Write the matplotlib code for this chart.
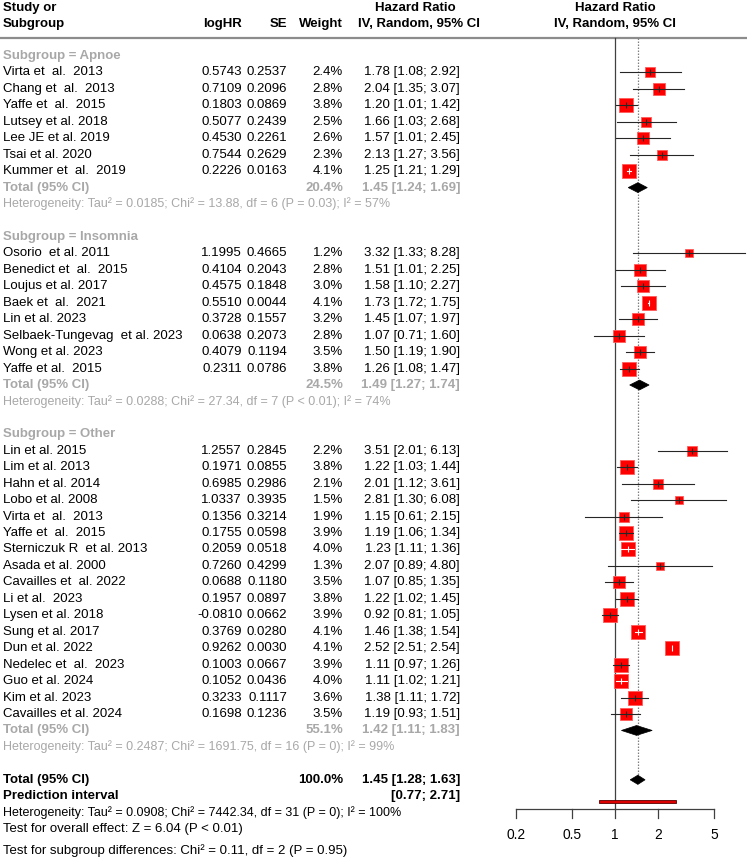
import numpy as np
import matplotlib.pyplot as plt
from matplotlib.patches import Polygon, Rectangle

plt.rcParams['font.family'] = ['Liberation Sans', 'DejaVu Sans']

# ---- data ----
apnoe_studies = ["Virta et  al.  2013", "Chang et  al.  2013", "Yaffe et  al.  2015",
                 "Lutsey et al. 2018", "Lee JE et al. 2019", "Tsai et al. 2020",
                 "Kummer et  al.  2019"]
apnoe_loghr = [0.5743, 0.7109, 0.1803, 0.5077, 0.4530, 0.7544, 0.2226]
apnoe_se = [0.2537, 0.2096, 0.0869, 0.2439, 0.2261, 0.2629, 0.0163]
apnoe_weight = [2.4, 2.8, 3.8, 2.5, 2.6, 2.3, 4.1]
apnoe_hr = [1.78, 2.04, 1.20, 1.66, 1.57, 2.13, 1.25]
apnoe_lo = [1.08, 1.35, 1.01, 1.03, 1.01, 1.27, 1.21]
apnoe_hi = [2.92, 3.07, 1.42, 2.68, 2.45, 3.56, 1.29]

insomnia_studies = ["Osorio  et al. 2011", "Benedict et  al.  2015", "Loujus et al. 2017",
                    "Baek et  al.  2021", "Lin et al. 2023", "Selbaek-Tungevag  et al. 2023",
                    "Wong et al. 2023", "Yaffe et al.  2015"]
insomnia_loghr = [1.1995, 0.4104, 0.4575, 0.5510, 0.3728, 0.0638, 0.4079, 0.2311]
insomnia_se = [0.4665, 0.2043, 0.1848, 0.0044, 0.1557, 0.2073, 0.1194, 0.0786]
insomnia_weight = [1.2, 2.8, 3.0, 4.1, 3.2, 2.8, 3.5, 3.8]
insomnia_hr = [3.32, 1.51, 1.58, 1.73, 1.45, 1.07, 1.50, 1.26]
insomnia_lo = [1.33, 1.01, 1.10, 1.72, 1.07, 0.71, 1.19, 1.08]
insomnia_hi = [8.28, 2.25, 2.27, 1.75, 1.97, 1.60, 1.90, 1.47]

other_studies = ["Lin et al. 2015", "Lim et al. 2013", "Hahn et al. 2014", "Lobo et al. 2008",
                 "Virta et  al.  2013", "Yaffe et  al.  2015", "Sterniczuk R  et al. 2013",
                 "Asada et al. 2000", "Cavailles et  al. 2022", "Li et al.  2023",
                 "Lysen et al. 2018", "Sung et al. 2017", "Dun et al. 2022",
                 "Nedelec et  al.  2023", "Guo et al. 2024", "Kim et al. 2023",
                 "Cavailles et al. 2024"]
other_loghr = [1.2557, 0.1971, 0.6985, 1.0337, 0.1356, 0.1755, 0.2059, 0.7260, 0.0688,
               0.1957, -0.0810, 0.3769, 0.9262, 0.1003, 0.1052, 0.3233, 0.1698]
other_se = [0.2845, 0.0855, 0.2986, 0.3935, 0.3214, 0.0598, 0.0518, 0.4299, 0.1180,
            0.0897, 0.0662, 0.0280, 0.0030, 0.0667, 0.0436, 0.1117, 0.1236]
other_weight = [2.2, 3.8, 2.1, 1.5, 1.9, 3.9, 4.0, 1.3, 3.5, 3.8, 3.9, 4.1, 4.1, 3.9, 4.0, 3.6, 3.5]
other_hr = [3.51, 1.22, 2.01, 2.81, 1.15, 1.19, 1.23, 2.07, 1.07, 1.22, 0.92, 1.46, 2.52,
            1.11, 1.11, 1.38, 1.19]
other_lo = [2.01, 1.03, 1.12, 1.30, 0.61, 1.06, 1.11, 0.89, 0.85, 1.02, 0.81, 1.38, 2.51,
            0.97, 1.02, 1.11, 0.93]
other_hi = [6.13, 1.44, 3.61, 6.08, 2.15, 1.34, 1.36, 4.80, 1.35, 1.45, 1.05, 1.54, 2.54,
            1.26, 1.21, 1.72, 1.51]

subgroup_names = ["Apnoe", "Insomnia", "Other"]
subgroup_weight = [20.4, 24.5, 55.1]
subgroup_hr = [1.45, 1.49, 1.42]
subgroup_lo = [1.24, 1.27, 1.11]
subgroup_hi = [1.69, 1.74, 1.83]
subgroup_het = [
    "Heterogeneity: Tau² = 0.0185; Chi² = 13.88, df = 6 (P = 0.03); I² = 57%",
    "Heterogeneity: Tau² = 0.0288; Chi² = 27.34, df = 7 (P < 0.01); I² = 74%",
    "Heterogeneity: Tau² = 0.2487; Chi² = 1691.75, df = 16 (P = 0); I² = 99%",
]

overall_hr, overall_lo, overall_hi = 1.45, 1.28, 1.63
pred_lo, pred_hi = 0.77, 2.71
overall_het = "Heterogeneity: Tau² = 0.0908; Chi² = 7442.34, df = 31 (P = 0); I² = 100%"
overall_test = "Test for overall effect: Z = 6.04 (P < 0.01)"
subgroup_test = "Test for subgroup differences: Chi² = 0.11, df = 2 (P = 0.95)"
tick_values = [0.2, 0.5, 1, 2, 5]

groups = [
    (apnoe_studies, apnoe_loghr, apnoe_se, apnoe_weight, apnoe_hr, apnoe_lo, apnoe_hi),
    (insomnia_studies, insomnia_loghr, insomnia_se, insomnia_weight, insomnia_hr, insomnia_lo, insomnia_hi),
    (other_studies, other_loghr, other_se, other_weight, other_hr, other_lo, other_hi),
]

# ---- layout (pixel based, 747 x 860) ----
W, H = 747, 860
row0, rowh = 56, 16.45          # pixel y of first row and row height
px_dec = 141.7                  # pixels per decade on the forest axis
x_null = 615                    # pixel x of HR = 1


def prow(py):
    return (py - row0) / rowh


fig = plt.figure(figsize=(W / 100, H / 100), dpi=100)
ax_t = fig.add_axes([0, 0, 1, 1])
ax_t.set_xlim(0, W)
ax_t.set_ylim(prow(H), prow(0))
ax_t.axis('off')

fx0 = 480
ax_f = fig.add_axes([fx0 / W, 0, (W - fx0) / W, 1])
ax_f.set_xscale('log')
ax_f.set_xlim(10 ** ((fx0 - x_null) / px_dec), 10 ** ((W - x_null) / px_dec))
ax_f.set_ylim(prow(H), prow(0))
ax_f.axis('off')

fs = 9.5
fs_het = 9.0
grey = '#a8a8a8'
X_NAME, X_LOG, X_SE, X_W, X_HR, X_HRC = 3, 242, 287, 343, 460, 415

# header
hy1, hy2 = prow(8), prow(24)
ax_t.text(X_NAME, hy1, "Study or", fontsize=fs, fontweight='bold', va='center')
ax_t.text(X_NAME, hy2, "Subgroup", fontsize=fs, fontweight='bold', va='center')
ax_t.text(X_LOG, hy2, "logHR", fontsize=fs, fontweight='bold', va='center', ha='right')
ax_t.text(X_SE, hy2, "SE", fontsize=fs, fontweight='bold', va='center', ha='right')
ax_t.text(X_W, hy2, "Weight", fontsize=fs, fontweight='bold', va='center', ha='right')
ax_t.text(X_HRC, hy1, "Hazard Ratio", fontsize=fs, fontweight='bold', va='center', ha='center')
ax_t.text(X_HRC + 4, hy2, "IV, Random, 95% CI", fontsize=fs, fontweight='bold', va='center', ha='center')
ax_t.text(x_null, hy1, "Hazard Ratio", fontsize=fs, fontweight='bold', va='center', ha='center')
ax_t.text(x_null, hy2, "IV, Random, 95% CI", fontsize=fs, fontweight='bold', va='center', ha='center')
ax_t.plot([0, W], [prow(38), prow(38)], color='#8c8c8c', lw=1.6, solid_capstyle='butt')

fig.canvas.draw()
to_px = ax_f.transData


def draw_square(y, hr, lo, hi, w):
    side = 6.9 * np.sqrt(w)
    ax_f.plot([hr], [y], marker='s', ms=side * 0.72, color='#ff0000',
              mec='#ff5a5a', mew=0.6, zorder=3)
    xl = to_px.transform((lo, y))[0]
    xh = to_px.transform((hi, y))[0]
    xc = to_px.transform((hr, y))[0]
    inside = (xc - xl) <= side / 2 and (xh - xc) <= side / 2
    lc = 'white' if inside else '#262626'
    ax_f.plot([lo, hi], [y, y], color=lc, lw=0.8, zorder=4)
    ax_f.plot([hr], [y], marker='|', ms=4.5, mew=0.8, color=lc, zorder=4)


def diamond(y, lo, mid, hi, hh=0.3):
    ax_f.add_patch(Polygon([(lo, y), (mid, y - hh), (hi, y), (mid, y + hh)],
                           closed=True, facecolor='black', edgecolor='black', lw=0.5, zorder=3))


k = 0
for gi, (studies, lhr, se, wt, hr, lo, hi) in enumerate(groups):
    ax_t.text(X_NAME, k, "Subgroup = " + subgroup_names[gi], fontsize=fs,
              fontweight='bold', color=grey, va='center')
    for j in range(len(studies)):
        y = k + 1 + j
        ax_t.text(X_NAME, y, studies[j], fontsize=fs, va='center')
        ax_t.text(X_LOG, y, f"{lhr[j]:.4f}", fontsize=fs, va='center', ha='right')
        ax_t.text(X_SE, y, f"{se[j]:.4f}", fontsize=fs, va='center', ha='right')
        ax_t.text(X_W, y, f"{wt[j]:.1f}%", fontsize=fs, va='center', ha='right')
        ax_t.text(X_HR, y, f"{hr[j]:.2f} [{lo[j]:.2f}; {hi[j]:.2f}]", fontsize=fs,
                  va='center', ha='right')
        draw_square(y, hr[j], lo[j], hi[j], wt[j])
    yt = k + len(studies) + 1
    ax_t.text(X_NAME, yt, "Total (95% CI)", fontsize=fs, fontweight='bold', color=grey, va='center')
    ax_t.text(X_W, yt, f"{subgroup_weight[gi]:.1f}%", fontsize=fs, fontweight='bold',
              color=grey, va='center', ha='right')
    ax_t.text(X_HR, yt, f"{subgroup_hr[gi]:.2f} [{subgroup_lo[gi]:.2f}; {subgroup_hi[gi]:.2f}]",
              fontsize=fs, fontweight='bold', color=grey, va='center', ha='right')
    diamond(yt, subgroup_lo[gi], subgroup_hr[gi], subgroup_hi[gi])
    ax_t.text(X_NAME, yt + 1, subgroup_het[gi], fontsize=fs_het, color=grey, va='center')
    k = yt + 3

# overall
ax_t.text(X_NAME, k, "Total (95% CI)", fontsize=fs, fontweight='bold', va='center')
ax_t.text(X_W, k, "100.0%", fontsize=fs, fontweight='bold', va='center', ha='right')
ax_t.text(X_HR, k, f"{overall_hr:.2f} [{overall_lo:.2f}; {overall_hi:.2f}]", fontsize=fs,
          fontweight='bold', va='center', ha='right')
diamond(k, overall_lo, overall_hr, overall_hi, hh=0.28)
ax_t.text(X_NAME, k + 1, "Prediction interval", fontsize=fs, fontweight='bold', va='center')
ax_t.text(X_HR, k + 1, f"[{pred_lo:.2f}; {pred_hi:.2f}]", fontsize=fs, fontweight='bold',
          va='center', ha='right')
ax_f.add_patch(Rectangle((pred_lo, k + 1.33 - 0.11), pred_hi - pred_lo, 0.22,
                         facecolor='#dd0000', edgecolor='#5a0000', lw=0.6, zorder=3))
ax_t.text(X_NAME, k + 2.0, overall_het, fontsize=fs_het, va='center')
ax_t.text(X_NAME, k + 3.0, overall_test, fontsize=fs, va='center')
ax_t.text(X_NAME, k + 4.3, subgroup_test, fontsize=fs, va='center')

# reference lines
y_axis = prow(809)
ax_f.plot([1, 1], [prow(38), y_axis], color='#404040', lw=0.9, zorder=2)
ax_f.plot([overall_hr, overall_hr], [prow(38), k - 0.28], color='#808080', lw=0.9,
          ls=(0, (1.2, 1.2)), zorder=2)

# x axis
ax_f.plot([tick_values[0], tick_values[-1]], [y_axis, y_axis], color='#404040', lw=0.9)
for t in tick_values:
    ax_f.plot([t, t], [y_axis, y_axis + 9 / rowh], color='#404040', lw=0.9)
    ax_f.text(t, prow(835), f"{t:g}", fontsize=fs + 0.4, ha='center', va='center')

fig.savefig('out.png', dpi=100)
